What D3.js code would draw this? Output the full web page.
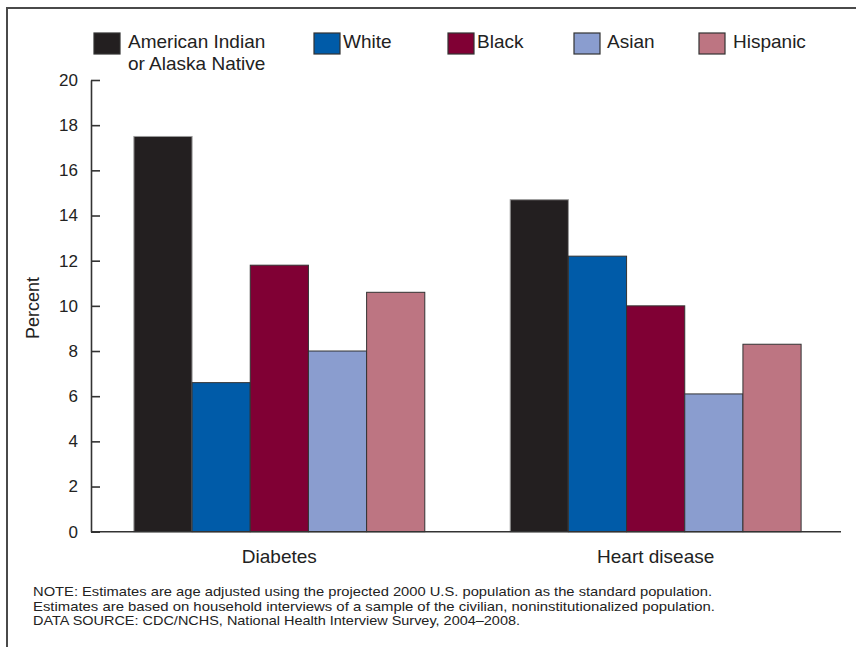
<!DOCTYPE html>
<html>
<head>
<meta charset="utf-8">
<script src="https://cdn.jsdelivr.net/npm/d3@7"></script>
<style>
  html, body { margin: 0; padding: 0; background: #fff; }
  svg { display: block; font-family: "Liberation Sans", Arial, Helvetica, sans-serif; }
</style>
</head>
<body>
<svg id="chart" width="856" height="647"></svg>
<script>
// ---- data ----
const categories = ["Diabetes", "Heart disease"];
const seriesNames = ["American Indian or Alaska Native", "White", "Black", "Asian", "Hispanic"];
const aianValues = [17.5, 14.7];
const whiteValues = [6.6, 12.2];
const blackValues = [11.8, 10.0];
const asianValues = [8.0, 6.1];
const hispanicValues = [10.6, 8.3];
const yTickValues = [0, 2, 4, 6, 8, 10, 12, 14, 16, 18, 20];
const legendLines = [["American Indian", "or Alaska Native"], ["White"], ["Black"], ["Asian"], ["Hispanic"]];
const noteLines = [
  "NOTE: Estimates are age adjusted using the projected 2000 U.S. population as the standard population.",
  "Estimates are based on household interviews of a sample of the civilian, noninstitutionalized population.",
  "DATA SOURCE: CDC/NCHS, National Health Interview Survey, 2004\u20132008."
];

// ---- styles / layout ----
const colors = ["#231f20", "#005ba8", "#800034", "#8a9dcf", "#bd7582"];
const strokes = ["#9a9a9a", "#333333", "#333333", "#333333", "#333333"];
const legendSwatchX = [94, 314, 448, 574, 699];
const legendTextX = [128, 343, 477, 607, 733];
const noteWidths = [679, 682, 487];

const seriesValues = [aianValues, whiteValues, blackValues, asianValues, hispanicValues];
const table = categories.map((c, i) => ({
  category: c,
  values: seriesNames.map((s, j) => ({ series: s, idx: j, value: seriesValues[j][i] }))
}));

const svg = d3.select("#chart");

// frame
svg.append("rect")
  .attr("x", 7).attr("y", 8).attr("width", 900).attr("height", 700)
  .attr("fill", "none").attr("stroke", "#4a4a4a").attr("stroke-width", 2);

const y = d3.scaleLinear().domain([0, 20]).range([531.7, 80]);
const x0 = d3.scaleBand().domain(categories).range([92.5, 842.5]).paddingInner(0.227).paddingOuter(0.11);
const x1 = d3.scaleBand().domain(seriesNames).range([0, x0.bandwidth()]).padding(0);

// bars
const groups = svg.append("g").selectAll("g").data(table).join("g")
  .attr("transform", d => `translate(${x0(d.category)},0)`);
groups.selectAll("rect").data(d => d.values).join("rect")
  .attr("x", d => x1(d.series))
  .attr("y", d => y(d.value))
  .attr("width", x1.bandwidth())
  .attr("height", d => y(0) - y(d.value))
  .attr("fill", d => colors[d.idx])
  .attr("stroke", d => strokes[d.idx])
  .attr("stroke-width", 1);

// y axis
const yAxis = d3.axisLeft(y).tickValues(yTickValues).tickSize(-9).tickSizeOuter(0).tickPadding(13);
const gy = svg.append("g").attr("transform", "translate(91,0)").call(yAxis);
gy.select(".domain").attr("stroke", "#333").attr("stroke-width", 1.6);
gy.selectAll(".tick line").attr("stroke", "#333").attr("stroke-width", 1.6);
gy.selectAll(".tick text").attr("font-size", 17).attr("fill", "#222")
  .attr("font-family", "'Liberation Sans', Arial, sans-serif");

// x axis
const xAxis = d3.axisBottom(x0).tickSize(0).tickSizeOuter(0).tickPadding(18);
const gx = svg.append("g").attr("transform", `translate(0,${y(0)})`).call(xAxis);
gx.select(".domain").attr("stroke", "#333").attr("stroke-width", 1.6)
  .attr("d", `M${91 - 92.5},0H${841 - 92.5 + 92.5}`);
gx.select(".domain").attr("d", "M91,0H841");
gx.selectAll(".tick text").attr("font-size", 19).attr("fill", "#222")
  .attr("font-family", "'Liberation Sans', Arial, sans-serif");

// y label
svg.append("text")
  .attr("transform", "translate(39,308) rotate(-90)")
  .attr("text-anchor", "middle")
  .attr("font-size", 18).attr("fill", "#222")
  .text("Percent");

// legend
const leg = svg.append("g").selectAll("g").data(seriesNames).join("g");
leg.append("rect")
  .attr("x", (d, i) => legendSwatchX[i]).attr("y", 33)
  .attr("width", 26).attr("height", 21)
  .attr("fill", (d, i) => colors[i]).attr("stroke", "#333").attr("stroke-width", 1.2);
leg.append("text")
  .attr("x", (d, i) => legendTextX[i]).attr("y", 48)
  .attr("font-size", 19).attr("fill", "#222")
  .selectAll("tspan").data((d, i) => legendLines[i]).join("tspan")
  .attr("x", function() { return d3.select(this.parentNode).attr("x"); })
  .attr("dy", (d, k) => k === 0 ? 0 : 22)
  .text(d => d);

// notes
svg.append("g").selectAll("text").data(noteLines).join("text")
  .attr("x", 33).attr("y", (d, i) => 596 + i * 14.5)
  .attr("font-size", 13).attr("fill", "#222")
  .attr("textLength", (d, i) => noteWidths[i]).attr("lengthAdjust", "spacingAndGlyphs")
  .text(d => d);
</script>
</body>
</html>
